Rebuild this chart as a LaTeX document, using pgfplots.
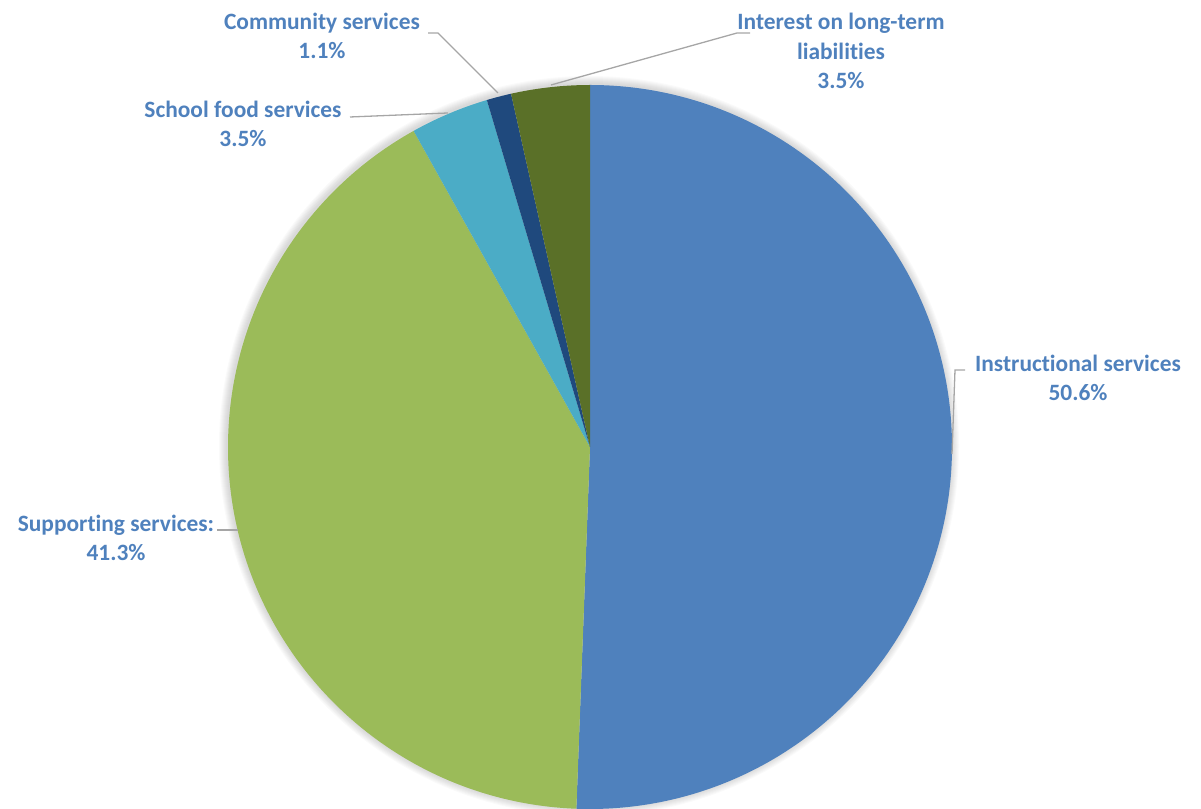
\documentclass[border=0pt]{standalone}
\usepackage{pgfplots}
\pgfplotsset{compat=1.18}
\usepackage{fontspec}
\setmainfont[Ligatures=NoCommon]{Carlito}
\definecolor{cInstr}{HTML}{4F81BD}
\definecolor{cSupp}{HTML}{9BBB59}
\definecolor{cFood}{HTML}{4BACC6}
\definecolor{cComm}{HTML}{1F497D}
\definecolor{cInt}{HTML}{5A7028}
\definecolor{cLab}{HTML}{4F81BD}
\definecolor{cLine}{HTML}{A6A6A6}
\begin{document}
\begin{tikzpicture}
% shares in percent, clockwise from 12 o'clock
\def\vInstr{50.6}
\def\vSupp{41.3}
\def\vFood{3.5}
\def\vComm{1.1}
\def\vInt{3.5}
\pgfmathsetmacro\aA{90}
\pgfmathsetmacro\aB{\aA-3.6*\vInstr}
\pgfmathsetmacro\aC{\aB-3.6*\vSupp}
\pgfmathsetmacro\aD{\aC-3.6*\vFood}
\pgfmathsetmacro\aE{\aD-3.6*\vComm}
\pgfmathsetmacro\aF{\aE-3.6*\vInt}
\begin{axis}[
  scale only axis, width=1201bp, height=808bp,
  xmin=0, xmax=1201, ymin=0, ymax=808,
  hide axis, clip=true,
]
\def\r{362bp}
% soft shadow
\pgfplotsinvokeforeach{363,364,365,366,367,368,369,370}{
  \fill[black, opacity=0.018] (axis cs:589,362) circle[radius=#1bp];
}
\fill[cInstr] (axis cs:590,361) -- +(\aA:\r) arc[start angle=\aA, end angle=\aB, radius=\r] -- cycle;
\fill[cSupp]  (axis cs:590,361) -- +(\aB:\r) arc[start angle=\aB, end angle=\aC, radius=\r] -- cycle;
\fill[cFood]  (axis cs:590,361) -- +(\aC:\r) arc[start angle=\aC, end angle=\aD, radius=\r] -- cycle;
\fill[cComm]  (axis cs:590,361) -- +(\aD:\r) arc[start angle=\aD, end angle=\aE, radius=\r] -- cycle;
\fill[cInt]   (axis cs:590,361) -- +(\aE:\r) arc[start angle=\aE, end angle=\aF, radius=\r] -- cycle;
% leader lines
\draw[cLine, line width=1.3bp] (axis cs:428,775) -- (axis cs:438,775) -- (axis cs:498,715);
\draw[cLine, line width=1.3bp] (axis cs:750,775) -- (axis cs:737,775) -- (axis cs:551,723);
\draw[cLine, line width=1.3bp] (axis cs:350,691) -- (axis cs:448,695);
\draw[cLine, line width=1.3bp] (axis cs:965,438) -- (axis cs:955,438) -- (axis cs:952,354);
\draw[cLine, line width=1.3bp] (axis cs:217,278) -- (axis cs:238,278);
% labels
\tikzset{lab/.style={text=cLab, font=\fontsize{23.5}{29.5}\selectfont\bfseries, align=center, inner sep=0pt}}
\node[lab] at (axis cs:322,772) {Community services\\1.1\%};
\node[lab] at (axis cs:841,757) {Interest on long-term\\liabilities\\3.5\%};
\node[lab] at (axis cs:243,684) {School food services\\3.5\%};
\node[lab] at (axis cs:1078,430) {Instructional services\\50.6\%};
\node[lab] at (axis cs:116,270) {Supporting services:\\41.3\%};
\end{axis}
\pgfresetboundingbox
\useasboundingbox (current axis.south west) rectangle (current axis.north east);
\end{tikzpicture}
\end{document}
